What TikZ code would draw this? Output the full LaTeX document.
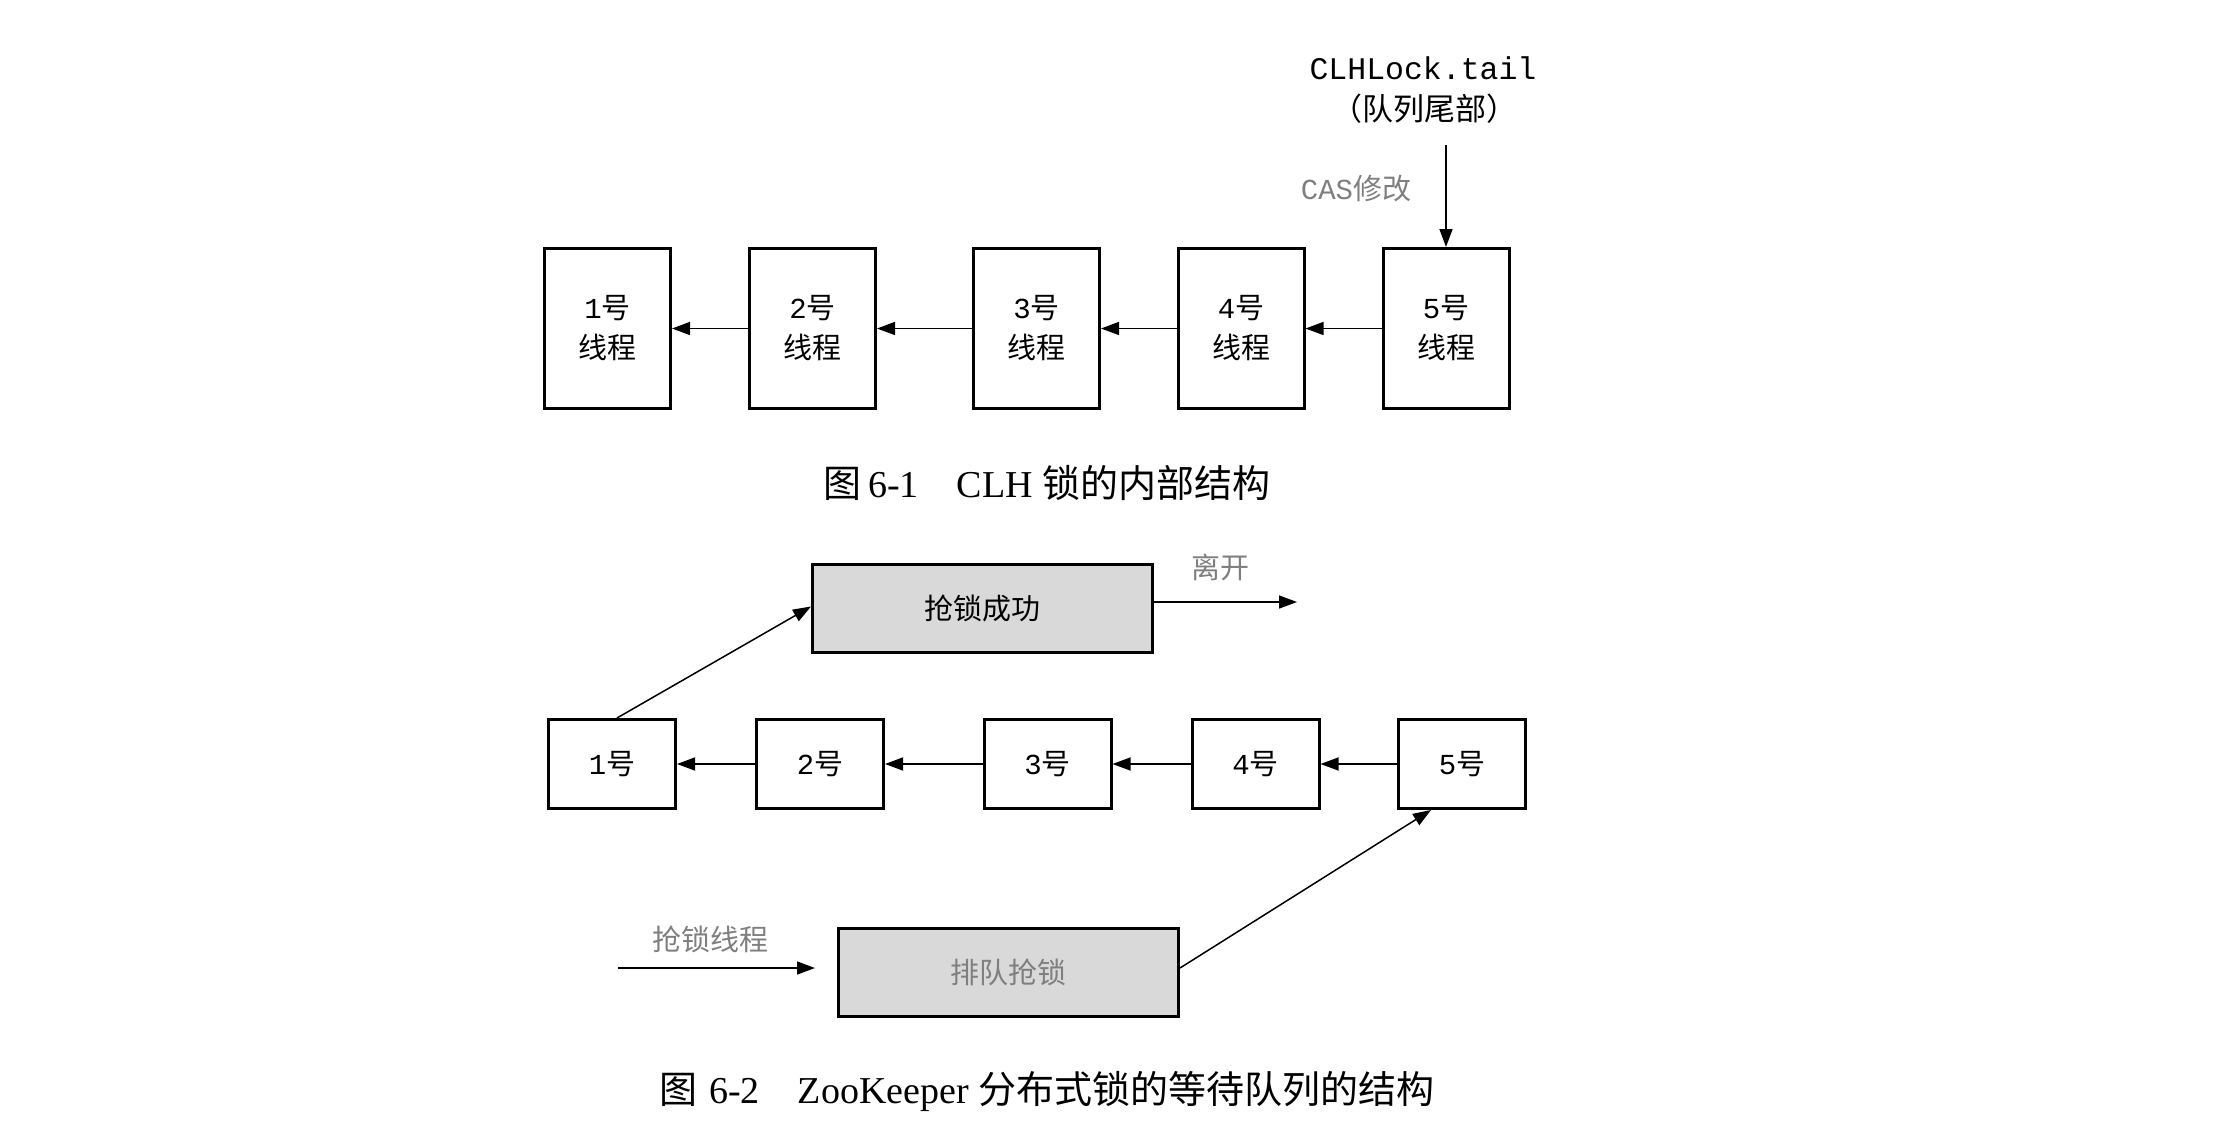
\documentclass[tikz,border=0pt]{standalone}
\usepackage{fontspec}
\setmainfont{Liberation Serif}
\newfontfamily\cjk{Noto Sans CJK SC}
\newfontfamily\mono{Liberation Mono}
\usetikzlibrary{arrows.meta,calc}
\definecolor{lbl}{HTML}{7F7F7F}
\definecolor{boxfill}{HTML}{D9D9D9}
\tikzset{
  thr/.style={draw, line width=3pt, minimum width=126pt, minimum height=160pt, inner sep=0pt, align=center,
    font=\fontsize{29}{40}\selectfont},
  qnode/.style={draw, line width=3pt, minimum width=127pt, minimum height=89pt, inner sep=0pt,
    font=\fontsize{29}{36}\selectfont},
  grbox/.style={draw, line width=3pt, fill=boxfill, minimum width=340pt, minimum height=88pt, inner sep=0pt,
    font=\fontsize{29}{36}\selectfont},
  lab/.style={inner sep=0pt, text=lbl, font=\fontsize{29}{36}\selectfont},
  captxt/.style={inner sep=0pt, font=\fontsize{38}{44}\selectfont},
  conn/.style={line width=1.5pt, -{Triangle[length=18pt,width=13pt]}}
}
\begin{document}
\begin{tikzpicture}[x={(1pt,0pt)}, y={(0pt,-1pt)}]
\useasboundingbox (0,0) rectangle (2222,1132);
% ---------- Figure 6-1 ----------
\node[thr] (t1) at (607.5,328.5) {\mono 1\cjk 号\\\cjk 线程};
\node[thr] (t2) at (812.5,328.5) {\mono 2\cjk 号\\\cjk 线程};
\node[thr] (t3) at (1036.5,328.5) {\mono 3\cjk 号\\\cjk 线程};
\node[thr] (t4) at (1241,328.5) {\mono 4\cjk 号\\\cjk 线程};
\node[thr] (t5) at (1446,328.5) {\mono 5\cjk 号\\\cjk 线程};
\draw[conn] (t2.west) -- (t1.east);
\draw[conn] (t3.west) -- (t2.east);
\draw[conn] (t4.west) -- (t3.east);
\draw[conn] (t5.west) -- (t4.east);
\node[inner sep=0pt, font=\fontsize{31.5}{36}\selectfont\mono] (tail) at (1423,68) {CLHLock.tail};
\node[inner sep=0pt, font=\fontsize{31}{36}\selectfont\cjk] (tailcn) at (1424,109) {（队列尾部）};
\coordinate (tailstart) at (1446,145);
\draw[conn] (tailstart) -- (t5.north);
\node[lab] (cas) at (1356,189) {\mono CAS\cjk 修改};
\node[captxt] (cap1) at (1047,483) {\cjk 图\,\rmfamily 6-1\hspace{1.0em}CLH \cjk 锁的内部结构};
% ---------- Figure 6-2 ----------
\node[grbox] (succ) at (982.5,608.5) {\cjk 抢锁成功};
\node[qnode] (q1) at (612,764) {\mono 1\cjk 号};
\node[qnode] (q2) at (820,764) {\mono 2\cjk 号};
\node[qnode] (q3) at (1047.5,764) {\mono 3\cjk 号};
\node[qnode] (q4) at (1255.5,764) {\mono 4\cjk 号};
\node[qnode] (q5) at (1462,764) {\mono 5\cjk 号};
\draw[conn] (q2.west) -- (q1.east);
\draw[conn] (q3.west) -- (q2.east);
\draw[conn] (q4.west) -- (q3.east);
\draw[conn] (q5.west) -- (q4.east);
\draw[conn] ($(q1.north)+(5,0)$) -- ($(succ.west)+(0,-2)$);
\coordinate (leave) at (1297,602);
\draw[conn] (succ.east |- leave) -- (leave);
\node[lab] (leavel) at (1220,567) {\cjk 离开};
\node[grbox, text=lbl] (queue) at (1008.5,972) {\cjk 排队抢锁};
\coordinate (inA) at (618,968);
\coordinate (inB) at (815,968);
\draw[conn] (inA) -- (inB);
\node[lab] (inl) at (710,939) {\cjk 抢锁线程};
\draw[conn] (queue.east |- inB) -- ($(q5.south)+(-31,0)$);
\node[captxt] (cap2) at (1047,1091) {\cjk 图\hspace{0.3em}\rmfamily 6-2\hspace{1.0em}ZooKeeper \cjk 分布式锁的等待队列的结构};
\end{tikzpicture}
\end{document}
